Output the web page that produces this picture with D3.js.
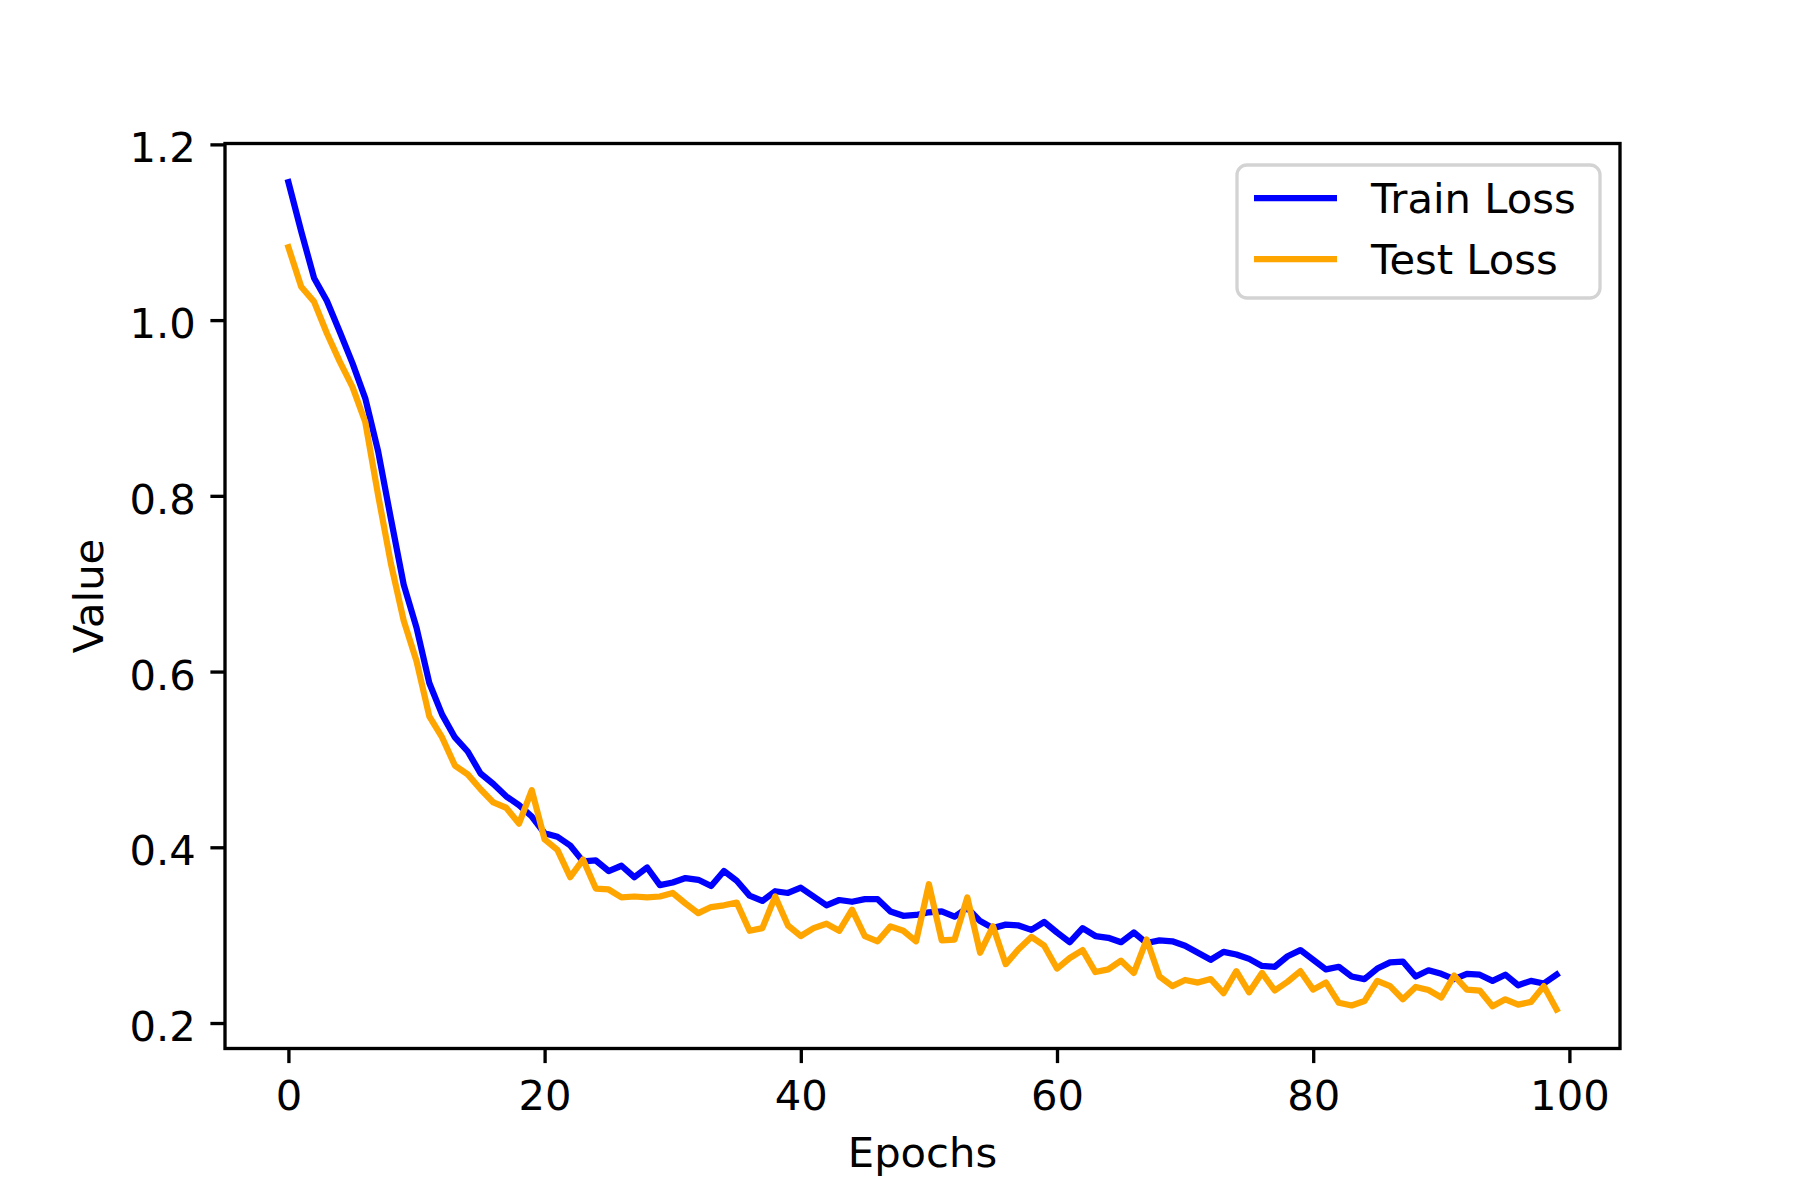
<!DOCTYPE html>
<html>
<head>
<meta charset="UTF-8">
<title>Train / Test Loss</title>
<script src="https://d3js.org/d3.v7.min.js"></script>
<style>
    body, html {
        margin: 0;
        background: #fff;
    }
    svg text {
        font-family: "DejaVu Sans", sans-serif;
    }
</style>
</head>
<body>
<svg id="chart" width="1800" height="1200"></svg>
<script>
    // epochs 0..99
    var epochs = d3.range(0, 100);

    var trainLoss = [
        1.157, 1.101, 1.048, 1.022, 0.987, 0.951, 0.911, 0.851, 0.774, 0.699,
        0.650, 0.587, 0.551, 0.525, 0.509, 0.484, 0.472, 0.458, 0.448, 0.435,
        0.416, 0.412, 0.402, 0.384, 0.385, 0.373, 0.379, 0.366, 0.377, 0.357,
        0.360, 0.365, 0.363, 0.356, 0.373, 0.362, 0.345, 0.339, 0.350, 0.348,
        0.354, 0.344, 0.334, 0.340, 0.338, 0.341, 0.341, 0.327, 0.322, 0.323,
        0.326, 0.327, 0.321, 0.331, 0.316, 0.308, 0.312, 0.311, 0.306, 0.315,
        0.303, 0.292, 0.308, 0.299, 0.297, 0.292, 0.303, 0.291, 0.294, 0.293,
        0.288, 0.280, 0.272, 0.281, 0.278, 0.273, 0.265, 0.264, 0.276, 0.283,
        0.272, 0.261, 0.264, 0.253, 0.250, 0.262, 0.269, 0.270, 0.253, 0.260,
        0.256, 0.250, 0.256, 0.255, 0.248, 0.255, 0.243, 0.248, 0.245, 0.255
    ];

    var testLoss = [
        1.083, 1.038, 1.021, 0.985, 0.953, 0.924, 0.884, 0.801, 0.723, 0.658,
        0.612, 0.549, 0.525, 0.493, 0.483, 0.466, 0.451, 0.445, 0.427, 0.465,
        0.409, 0.397, 0.366, 0.386, 0.353, 0.352, 0.343, 0.344, 0.343, 0.344,
        0.348, 0.336, 0.325, 0.332, 0.334, 0.337, 0.305, 0.308, 0.344, 0.311,
        0.299, 0.308, 0.313, 0.305, 0.329, 0.299, 0.293, 0.310, 0.305, 0.293,
        0.358, 0.294, 0.295, 0.343, 0.280, 0.310, 0.267, 0.284, 0.298, 0.288,
        0.262, 0.274, 0.283, 0.258, 0.261, 0.271, 0.257, 0.295, 0.253, 0.242,
        0.249, 0.246, 0.250, 0.234, 0.259, 0.235, 0.257, 0.237, 0.247, 0.259,
        0.238, 0.246, 0.223, 0.220, 0.225, 0.248, 0.242, 0.227, 0.241, 0.2375,
        0.229, 0.254, 0.238, 0.237, 0.219, 0.227, 0.221, 0.224, 0.242, 0.2155
    ];

    var xTicks = [0, 20, 40, 60, 80, 100];
    var yTicks = [0.2, 0.4, 0.6, 0.8, 1.0, 1.2];

    var seriesNames = ["Train Loss", "Test Loss"];
    var seriesColors = ["blue", "orange"];

    // plot box (pixels)
    var boxLeft = 225, boxRight = 1620, boxTop = 143.5, boxBottom = 1048.5;
    var fontSize = 41.7;
    var tickLen = 14.6, tickPad = 14.6;

    var svg = d3.select("#chart");
    svg.append("rect").attr("width", 1800).attr("height", 1200).attr("fill", "#fff");

    // matplotlib-style 5% margins on x
    var x = d3.scaleLinear().domain([-4.95, 103.95]).range([boxLeft, boxRight]);
    var y = d3.scaleLinear().domain([0.171, 1.201]).range([boxBottom, boxTop]);

    var line = d3.line()
        .x(function (d, i) { return x(epochs[i]); })
        .y(function (d) { return y(d); });

    [trainLoss, testLoss].forEach(function (data, k) {
        svg.append("path")
            .datum(data)
            .attr("fill", "none")
            .attr("stroke", seriesColors[k])
            .attr("stroke-width", 6.25)
            .attr("stroke-linejoin", "round")
            .attr("stroke-linecap", "square")
            .attr("d", line);
    });

    // x axis
    var gx = svg.append("g")
        .attr("transform", "translate(0," + boxBottom + ")")
        .call(d3.axisBottom(x).tickValues(xTicks).tickSize(tickLen).tickPadding(tickPad).tickSizeOuter(0)
            .tickFormat(d3.format("d")));
    gx.select(".domain").remove();
    gx.selectAll("line").attr("stroke", "#000").attr("stroke-width", 3.33);
    gx.selectAll("text").attr("font-size", fontSize).attr("fill", "#000").attr("dy", "0.78em");

    // y axis
    var gy = svg.append("g")
        .attr("transform", "translate(" + boxLeft + ",0)")
        .call(d3.axisLeft(y).tickValues(yTicks).tickSize(tickLen).tickPadding(tickPad).tickSizeOuter(0)
            .tickFormat(d3.format(".1f")));
    gy.select(".domain").remove();
    gy.selectAll("line").attr("stroke", "#000").attr("stroke-width", 3.33);
    gy.selectAll("text").attr("font-size", fontSize).attr("fill", "#000").attr("dy", "0.42em");

    // spines
    svg.append("rect")
        .attr("x", boxLeft).attr("y", boxTop)
        .attr("width", boxRight - boxLeft).attr("height", boxBottom - boxTop)
        .attr("fill", "none").attr("stroke", "#000").attr("stroke-width", 3.33)
        .attr("stroke-linejoin", "miter");

    // axis labels
    svg.append("text")
        .attr("x", (boxLeft + boxRight) / 2).attr("y", 1167)
        .attr("text-anchor", "middle").attr("font-size", fontSize)
        .text("Epochs");

    svg.append("text")
        .attr("transform", "translate(103," + (boxTop + boxBottom) / 2 + ") rotate(-90)")
        .attr("text-anchor", "middle").attr("font-size", fontSize)
        .text("Value");

    // legend
    var lg = svg.append("g");
    lg.append("rect")
        .attr("x", 1237).attr("y", 165).attr("width", 363).attr("height", 133)
        .attr("rx", 10).attr("ry", 10)
        .attr("fill", "#fff").attr("fill-opacity", 0.8)
        .attr("stroke", "#d3d3d3").attr("stroke-width", 3.3);

    seriesNames.forEach(function (name, k) {
        var cy = 198 + k * 61;
        lg.append("line")
            .attr("x1", 1254).attr("x2", 1337)
            .attr("y1", cy).attr("y2", cy)
            .attr("stroke", seriesColors[k]).attr("stroke-width", 6.25)
            .attr("stroke-linecap", "butt");
        lg.append("text")
            .attr("x", 1371).attr("y", cy + 15)
            .attr("font-size", fontSize)
            .text(name);
    });
</script>
</body>
</html>
